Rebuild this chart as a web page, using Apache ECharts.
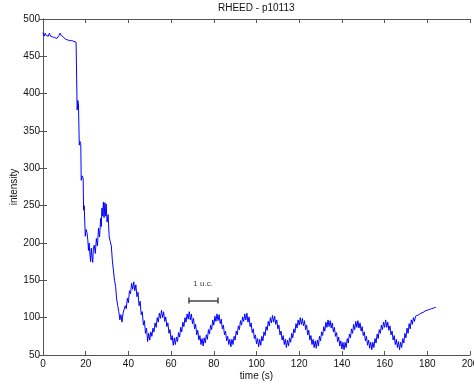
<!DOCTYPE html>
<html>
<head>
<meta charset="utf-8">
<script src="https://cdn.jsdelivr.net/npm/echarts@6/dist/echarts.min.js"></script>
<style>
  html, body { margin: 0; padding: 0; background: #fff; }
  #rheed { width: 474px; height: 384px; }
</style>
</head>
<body>
<div id="rheed"></div>
<script>
// RHEED intensity trace: [time (s), intensity]
// (each x.5 point is one of the short downward spikes of the raw signal)
let trace = [
  [0, 482], [0.5, 477], [1, 481], [1.5, 478], [2, 480], [2.5, 477], [3, 481], [3.5, 477], [4, 479],
  [4.5, 476], [5, 478], [5.5, 475], [6, 477], [6.5, 474], [7, 476], [7.5, 478], [8, 481], [8.5, 478],
  [9, 480], [9.5, 476], [10, 476], [10.5, 473], [11, 474], [11.5, 472], [12, 474], [12.5, 471],
  [13, 473], [13.5, 471], [14, 473], [14.5, 470], [15, 472], [15.5, 469], [15.9, 471],
  [16.0, 378], [16.3, 391], [16.6, 387], [16.9, 389],
  [17.0, 331], [17.3, 336], [17.7, 333],
  [17.9, 284], [18.3, 290], [18.8, 287],
  [19.0, 244], [19.3, 250], [19.6, 248],
  [19.8, 209], [20.2, 218], [20.6, 214], [21, 204], [21.3, 190], [21.6, 200], [22, 184], [22.3, 175],
  [22.6, 193], [23, 181], [23.3, 174], [23.6, 194], [24, 197], [24.5, 186], [25, 206], [25.5, 196],
  [26, 220], [26.5, 208], [27, 233], [27.3, 222], [27.6, 247], [28, 236], [28.3, 255], [28.6, 234],
  [29, 254], [29.3, 236], [29.6, 252], [30, 228], [30.5, 238], [31, 208], [31.5, 202], [32, 196],
  [32.5, 176], [33, 174], [33.5, 150], [34, 142], [34.5, 125], [35, 116], [35.5, 108], [36, 97],
  [36.5, 104], [37, 94], [37.5, 106], [38, 104], [38.5, 116], [39, 112], [39.5, 126], [40, 120],
  [40.5, 136], [41, 132], [41.5, 146], [42, 138], [42.5, 148], [43, 136], [43.5, 144], [44, 128],
  [44.5, 134], [45, 116], [45.5, 122], [46, 104], [46.5, 108], [47, 90], [47.5, 96], [48, 79],
  [48.5, 86], [49, 68], [49.5, 79], [50, 70], [50.5, 81], [51, 75], [51.5, 86], [52, 81],
  [52.5, 93], [53, 87], [53.5, 100], [54, 94], [54.5, 106], [55, 99], [55.5, 110], [56, 100],
  [56.5, 108], [57, 95], [57.5, 101], [58, 88], [58.5, 93], [59, 79], [59.5, 84], [60, 70],
  [60.5, 76], [61, 63], [61.5, 73], [62, 64], [62.5, 74], [63, 68], [63.5, 80], [64, 74],
  [64.5, 87], [65, 81], [65.5, 94], [66, 88], [66.5, 100], [67, 94], [67.5, 105], [68, 98],
  [68.5, 108], [69, 97], [69.5, 105], [70, 92], [70.5, 99], [71, 85], [71.5, 91], [72, 77],
  [72.5, 83], [73, 70], [73.5, 76], [74, 64], [74.5, 72], [75, 62], [75.5, 73], [76, 66],
  [76.5, 77], [77, 71], [77.5, 84], [78, 78], [78.5, 90], [79, 84], [79.5, 97], [80, 90],
  [80.5, 102], [81, 95], [81.5, 105], [82, 96], [82.5, 104], [83, 92], [83.5, 98], [84, 85],
  [84.5, 90], [85, 77], [85.5, 82], [86, 69], [86.5, 75], [87, 64], [87.5, 71], [88, 61],
  [88.5, 71], [89, 64], [89.5, 75], [90, 70], [90.5, 82], [91, 77], [91.5, 89], [92, 84],
  [92.5, 96], [93, 90], [93.5, 101], [94, 95], [94.5, 105], [95, 97], [95.5, 106], [96, 94],
  [96.5, 101], [97, 88], [97.5, 93], [98, 80], [98.5, 85], [99, 72], [99.5, 77], [100, 65],
  [100.5, 72], [101, 61], [101.5, 71], [102, 63], [102.5, 75], [103, 69], [103.5, 81], [104, 76],
  [104.5, 88], [105, 83], [105.5, 95], [106, 89], [106.5, 100], [107, 93], [107.5, 103], [108, 94],
  [108.5, 102], [109, 91], [109.5, 97], [110, 85], [110.5, 90], [111, 77], [111.5, 82], [112, 70],
  [112.5, 76], [113, 64], [113.5, 71], [114, 60], [114.5, 70], [115, 62], [115.5, 73], [116, 67],
  [116.5, 79], [117, 73], [117.5, 85], [118, 80], [118.5, 92], [119, 86], [119.5, 97], [120, 90],
  [120.5, 100], [121, 91], [121.5, 99], [122, 89], [122.5, 96], [123, 84], [123.5, 90], [124, 77],
  [124.5, 83], [125, 70], [125.5, 76], [126, 64], [126.5, 71], [127, 60], [127.5, 69], [128, 59],
  [128.5, 70], [129, 62], [129.5, 75], [130, 69], [130.5, 81], [131, 76], [131.5, 88], [132, 82],
  [132.5, 94], [133, 87], [133.5, 97], [134, 88], [134.5, 96], [135, 86], [135.5, 93], [136, 81],
  [136.5, 87], [137, 75], [137.5, 80], [138, 68], [138.5, 74], [139, 62], [139.5, 69], [140, 58],
  [140.5, 67], [141, 57], [141.5, 67], [142, 60], [142.5, 72], [143, 66], [143.5, 78], [144, 73],
  [144.5, 85], [145, 79], [145.5, 91], [146, 84], [146.5, 95], [147, 87], [147.5, 96], [148, 86],
  [148.5, 93], [149, 82], [149.5, 88], [150, 76], [150.5, 81], [151, 69], [151.5, 75], [152, 63],
  [152.5, 70], [153, 59], [153.5, 67], [154, 57], [154.5, 67], [155, 60], [155.5, 72], [156, 66],
  [156.5, 78], [157, 72], [157.5, 84], [158, 79], [158.5, 90], [159, 84], [159.5, 94], [160, 87],
  [160.5, 97], [161, 87], [161.5, 94], [162, 83], [162.5, 89], [163, 77], [163.5, 82], [164, 70],
  [164.5, 76], [165, 64], [165.5, 71], [166, 60], [166.5, 68], [167, 57], [167.5, 67], [168, 60],
  [168.5, 72], [169, 66], [169.5, 79], [170, 73], [170.5, 86], [171, 79], [171.5, 92], [172, 85],
  [172.5, 97], [173, 91], [173.5, 100], [174, 95], [174.5, 102], [175, 100], [176, 104], [177, 106],
  [178, 107], [179, 109], [180, 110], [181, 111], [182, 112], [183, 113], [184, 114]
];

// "1 u.c." marker (one unit cell period)
let ucStart = 68.4;
let ucEnd = 81.9;
let ucLevel = 123;
let ucCap = 4;
let ucLabel = '1 u.c.';
let ucLabelPos = [75, 146];

let xTicks = [0, 200, 20];   // min, max, step
let yTicks = [50, 500, 50];

let chart = echarts.init(document.getElementById('rheed'));

let axisCol = '#555';
let font = 'Liberation Sans, Arial, sans-serif';

let option = {
  animation: false,
  title: {
    text: 'RHEED - p10113',
    left: 218, top: 0, padding: [3, 0, 0, 0],
    textStyle: { fontFamily: font, fontSize: 10, fontWeight: 'normal', color: '#111' }
  },
  grid: { left: 43, right: 4, top: 19, bottom: 29, outerBoundsMode: 'none' },
  xAxis: [
    {
      type: 'value', min: xTicks[0], max: xTicks[1], interval: xTicks[2],
      name: 'time (s)', nameLocation: 'middle', nameGap: 16, nameMoveOverlap: false,
      nameTextStyle: { fontFamily: font, fontSize: 10, color: '#111' },
      axisLine: { lineStyle: { color: axisCol } },
      axisTick: { inside: true, length: 4, lineStyle: { color: axisCol } },
      axisLabel: { fontFamily: font, fontSize: 10, color: '#111', margin: 4 },
      splitLine: { show: false }
    },
    {
      type: 'value', position: 'top', min: xTicks[0], max: xTicks[1], interval: xTicks[2],
      axisLine: { lineStyle: { color: axisCol } },
      axisTick: { inside: true, length: 4, lineStyle: { color: axisCol } },
      axisLabel: { show: false }, splitLine: { show: false }
    }
  ],
  yAxis: [
    {
      type: 'value', min: yTicks[0], max: yTicks[1], interval: yTicks[2],
      name: 'intensity', nameLocation: 'middle', nameGap: 24, nameRotate: 90, nameMoveOverlap: false,
      nameTextStyle: { fontFamily: font, fontSize: 10, color: '#111' },
      axisLine: { show: true, lineStyle: { color: axisCol } },
      axisTick: { show: true, inside: true, length: 4, lineStyle: { color: axisCol } },
      axisLabel: { fontFamily: font, fontSize: 10, color: '#111', margin: 3 },
      splitLine: { show: false }
    },
    {
      type: 'value', position: 'right', min: yTicks[0], max: yTicks[1], interval: yTicks[2],
      axisLine: { show: true, lineStyle: { color: axisCol } },
      axisTick: { show: true, inside: true, length: 4, lineStyle: { color: axisCol } },
      axisLabel: { show: false }, splitLine: { show: false }
    }
  ],
  series: [
    {
      type: 'line', data: trace, showSymbol: false,
      lineStyle: { color: '#0000ff', width: 1 }
    },
    {
      type: 'lines', coordinateSystem: 'cartesian2d', polyline: false,
      lineStyle: { color: '#444', width: 1.5, opacity: 1 },
      data: [
        { coords: [[ucStart, ucLevel], [ucEnd, ucLevel]] },
        { coords: [[ucStart, ucLevel - ucCap], [ucStart, ucLevel + ucCap]] },
        { coords: [[ucEnd, ucLevel - ucCap], [ucEnd, ucLevel + ucCap]] }
      ]
    }
  ]
};

chart.setOption(option);

// place the "1 u.c." text through the chart's own scales
let p = chart.convertToPixel({ xAxisIndex: 0, yAxisIndex: 0 }, ucLabelPos);
chart.setOption({
  graphic: [{
    type: 'text', x: p[0], y: p[1],
    style: { text: ucLabel, fill: '#444', font: '8px Liberation Sans, Arial, sans-serif',
             textAlign: 'center', textVerticalAlign: 'middle' }
  }]
});
</script>
</body>
</html>
